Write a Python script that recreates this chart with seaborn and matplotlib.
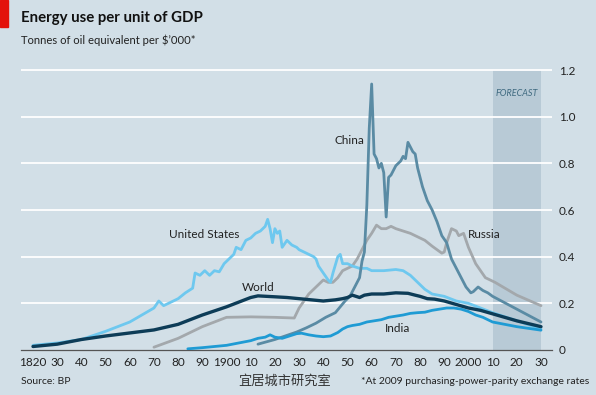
import numpy as np
import pandas as pd
import matplotlib.pyplot as plt
import seaborn as sns
from matplotlib.patches import Rectangle

# --- Data ---
us_years = [1820, 1830, 1840, 1850, 1860, 1865, 1870, 1872, 1874, 1876, 1880, 1883, 1886, 1887,
            1889, 1891, 1893, 1895, 1897, 1899, 1901, 1903, 1904, 1906, 1908, 1910, 1912, 1914,
            1916, 1917, 1918, 1919, 1920, 1921, 1922, 1923, 1925, 1927, 1929, 1930, 1932, 1934,
            1936, 1937, 1938, 1940, 1942, 1943, 1944, 1946, 1947, 1948, 1950, 1952, 1955, 1958,
            1960, 1965, 1970, 1973, 1976, 1979, 1982, 1985, 1990, 1995, 2000, 2005, 2010, 2020, 2030]
us_vals = [0.02, 0.03, 0.045, 0.08, 0.12, 0.15, 0.18, 0.21, 0.19, 0.2, 0.22, 0.245, 0.265, 0.33,
           0.32, 0.34, 0.32, 0.34, 0.335, 0.37, 0.39, 0.41, 0.44, 0.43, 0.47, 0.48, 0.5, 0.51,
           0.53, 0.56, 0.52, 0.46, 0.52, 0.50, 0.51, 0.44, 0.47, 0.45, 0.44, 0.43, 0.42, 0.41,
           0.40, 0.39, 0.36, 0.33, 0.30, 0.29, 0.33, 0.40, 0.41, 0.37, 0.37, 0.36, 0.35, 0.35,
           0.34, 0.34, 0.345, 0.34, 0.32, 0.29, 0.26, 0.24, 0.23, 0.21, 0.20, 0.18, 0.16, 0.125, 0.09]

world_years = [1820, 1830, 1840, 1850, 1860, 1870, 1880, 1890, 1900, 1905, 1910, 1913, 1920,
               1925, 1930, 1935, 1940, 1945, 1948, 1950, 1952, 1955, 1957, 1960, 1965, 1970,
               1975, 1978, 1980, 1983, 1986, 1990, 1995, 2000, 2005, 2010, 2020, 2030]
world_vals = [0.015, 0.025, 0.045, 0.06, 0.073, 0.086, 0.11, 0.15, 0.185, 0.205, 0.225, 0.232,
              0.228, 0.225, 0.22, 0.215, 0.21, 0.215, 0.22, 0.225, 0.235, 0.225, 0.235, 0.24,
              0.24, 0.245, 0.243, 0.235, 0.23, 0.22, 0.218, 0.21, 0.195, 0.18, 0.17, 0.155,
              0.125, 0.10]

china_years = [1913, 1920, 1929, 1933, 1937, 1941, 1945, 1949, 1951, 1953, 1955, 1956, 1957,
               1958, 1959, 1960, 1961, 1962, 1963, 1964, 1965, 1966, 1967, 1968, 1969, 1970,
               1971, 1972, 1973, 1974, 1975, 1976, 1977, 1978, 1979, 1980, 1981, 1982, 1983,
               1985, 1987, 1989, 1991, 1993, 1995, 1997, 1999, 2001, 2002, 2004, 2006, 2008,
               2010, 2020, 2030]
china_vals = [0.025, 0.045, 0.077, 0.095, 0.115, 0.14, 0.16, 0.21, 0.23, 0.27, 0.31, 0.38, 0.42,
              0.62, 0.95, 1.14, 0.84, 0.82, 0.78, 0.80, 0.76, 0.57, 0.74, 0.75, 0.77, 0.79,
              0.80, 0.81, 0.83, 0.82, 0.89, 0.87, 0.85, 0.84, 0.78, 0.74, 0.70, 0.67, 0.64,
              0.60, 0.55, 0.49, 0.46, 0.39, 0.35, 0.31, 0.27, 0.245, 0.25, 0.27, 0.255, 0.245,
              0.23, 0.175, 0.12]

russia_years = [1870, 1880, 1890, 1900, 1910, 1920, 1928, 1930, 1932, 1934, 1936, 1938, 1940,
                1942, 1944, 1946, 1948, 1950, 1952, 1954, 1956, 1958, 1960, 1962, 1964, 1966,
                1968, 1970, 1973, 1976, 1979, 1982, 1985, 1987, 1989, 1990, 1991, 1993, 1995,
                1996, 1998, 2000, 2003, 2007, 2009, 2011, 2020, 2030]
russia_vals = [0.012, 0.05, 0.10, 0.14, 0.142, 0.14, 0.137, 0.18, 0.21, 0.24, 0.26, 0.28, 0.30,
               0.29, 0.29, 0.31, 0.34, 0.35, 0.36, 0.39, 0.43, 0.47, 0.50, 0.535, 0.52, 0.52,
               0.53, 0.52, 0.51, 0.50, 0.485, 0.47, 0.445, 0.43, 0.415, 0.42, 0.46, 0.52, 0.51,
               0.49, 0.50, 0.44, 0.37, 0.31, 0.30, 0.29, 0.235, 0.19]

india_years = [1884, 1890, 1895, 1900, 1905, 1910, 1913, 1916, 1918, 1920, 1923, 1926, 1929,
               1931, 1934, 1937, 1940, 1943, 1946, 1948, 1950, 1952, 1955, 1958, 1961, 1964,
               1967, 1970, 1973, 1976, 1979, 1982, 1985, 1988, 1991, 1994, 1997, 2000, 2003,
               2006, 2010, 2020, 2030]
india_vals = [0.005, 0.01, 0.015, 0.02, 0.03, 0.04, 0.05, 0.055, 0.065, 0.055, 0.05, 0.06, 0.07,
              0.072, 0.065, 0.06, 0.057, 0.06, 0.075, 0.09, 0.10, 0.105, 0.11, 0.12, 0.125, 0.13,
              0.14, 0.145, 0.15, 0.157, 0.16, 0.162, 0.17, 0.175, 0.18, 0.18, 0.175, 0.165, 0.15,
              0.14, 0.12, 0.10, 0.085]

tick_years = list(range(1820, 2031, 10))
tick_labels = [str(y) if y in (1820, 1900, 2000) else str(y)[2:] for y in tick_years]
y_ticks = [0, 0.2, 0.4, 0.6, 0.8, 1.0, 1.2]
y_labels = ['0', '0.2', '0.4', '0.6', '0.8', '1.0', '1.2']

bg = '#d2dfe7'
sns.set_style("white", {"axes.facecolor": bg, "figure.facecolor": bg})
plt.rcParams['font.family'] = ['Lato', 'Noto Sans CJK SC', 'DejaVu Sans']

fig = plt.figure(figsize=(5.96, 3.95), dpi=100)
ax = fig.add_axes([21 / 596, 45 / 395, 531 / 596, 285 / 395])
ax.set_facecolor(bg)

# forecast band and gridlines
ax.fill_between([2010, 2030], 0, 1.2, color='#b8cad6', zorder=0, lw=0)
for v in y_ticks[1:]:
    ax.axhline(v, color='white', lw=1.3, zorder=1)

series = [
    ('Russia', russia_years, russia_vals, '#a3a8ac', 2.0),
    ('United States', us_years, us_vals, '#6ec8ef', 2.0),
    ('China', china_years, china_vals, '#5a8ba4', 2.0),
    ('India', india_years, india_vals, '#1f9bd4', 2.0),
    ('World', world_years, world_vals, '#0d3c57', 2.4),
]
for name, xs, ys, col, w in series:
    df = pd.DataFrame({'year': xs, 'value': ys})
    sns.lineplot(data=df, x='year', y='value', ax=ax, color=col, lw=w, zorder=3)

ax.set_xlim(1820 - 12 / 2.419, 2030 + 11 / 2.419)
ax.set_ylim(0, 285 / 233.33)

for s in ['top', 'right', 'left']:
    ax.spines[s].set_visible(False)
ax.spines['bottom'].set_color('#555555')
ax.spines['bottom'].set_linewidth(0.9)

ax.set_xticks(tick_years)
ax.set_xticklabels(tick_labels)
ax.tick_params(axis='x', direction='in', length=5, width=0.8, color='#555555',
               labelsize=8.5, labelcolor='#222222', pad=5)
ax.yaxis.tick_right()
ax.set_yticks(y_ticks)
ax.set_yticklabels(y_labels)
ax.tick_params(axis='y', length=0, labelsize=8.5, labelcolor='#222222', pad=5)
ax.set_xlabel('')
ax.set_ylabel('')

# series labels
lab = dict(fontsize=8.5, color='#222222', ha='center', va='center', zorder=5)
ax.text(1951, 0.90, 'China', **lab)
ax.text(1890.7, 0.493, 'United States', **lab)
ax.text(1913, 0.266, 'World', **lab)
ax.text(1970.5, 0.094, 'India', **lab)
ax.text(2006.5, 0.497, 'Russia', **lab)
ax.text(2020, 1.10, 'FORECAST', fontsize=6.5, style='italic', color='#3f6a80',
        ha='center', va='center', zorder=5)

# header and footer
fig.patches.append(Rectangle((0, 1 - 27 / 395), 8 / 596, 27 / 395,
                             transform=fig.transFigure, color='#e3120b'))
fig.text(21 / 596, 1 - 18 / 395, 'Energy use per unit of GDP', fontsize=10.8,
         fontweight='bold', color='#111111', va='center')
fig.text(21 / 596, 1 - 40 / 395, "Tonnes of oil equivalent per $\u2019000*", fontsize=8.1,
         color='#222222', va='center')
fig.text(21 / 596, 1 - 381 / 395, 'Source: BP', fontsize=7.5, color='#222222', va='center')
fig.text(589 / 596, 1 - 381 / 395, '*At 2009 purchasing-power-parity exchange rates',
         fontsize=7.5, color='#222222', va='center', ha='right')
fig.text(285 / 596, 1 - 381 / 395, '宜居城市研究室', fontsize=9.5, color='#333333',
         va='center', ha='center', family=['Noto Sans CJK SC', 'DejaVu Sans'])

fig.savefig('out.png', dpi=100, facecolor=bg)
